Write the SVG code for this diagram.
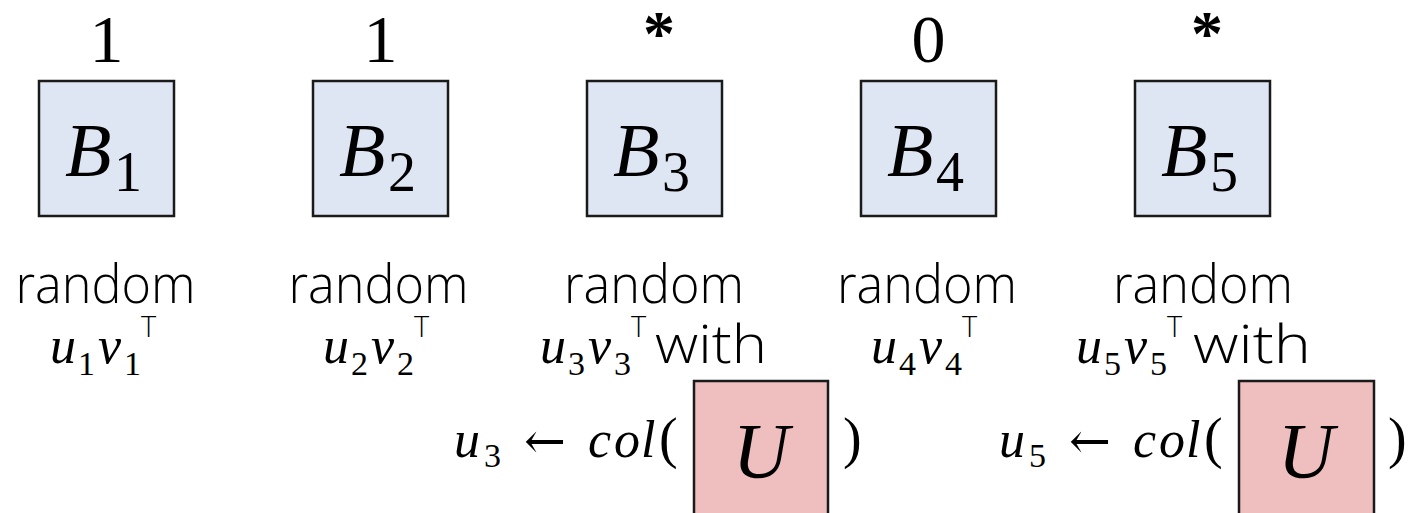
<svg xmlns="http://www.w3.org/2000/svg" width="1414" height="513" viewBox="0 0 1414 513">
<style>
.bbox{fill:#DFE6F3;stroke:#1a1a1a;stroke-width:2.5}
.ubox{fill:#EFBEBE;stroke:#1a1a1a;stroke-width:2.5}
.top{font-family:"Liberation Serif",serif;font-size:68px;fill:#000;text-anchor:middle}
.ast{font-family:"Liberation Serif",serif;font-size:64px;font-weight:bold;fill:#000;text-anchor:middle}
.mi{font-family:"Liberation Serif",serif;font-style:italic;fill:#000}
.mr{font-family:"Liberation Serif",serif;fill:#000}
.arr{font-family:"DejaVu Serif",serif;font-size:50px;fill:#000}
.big{font-size:76px}
.bsub{font-size:56px}
.m{font-size:52px}
.s{font-size:34px}
.sup{font-family:"Open Sans","Liberation Sans",sans-serif;font-weight:300;font-size:29px;fill:#000}
.par{font-size:56px}
.sans{font-family:"Open Sans","Liberation Sans",sans-serif;font-weight:300;font-size:53px;fill:#000}
.U{font-size:78px;text-anchor:middle}
</style>

<g id="B1">
<text class="top" x="106.5" y="62">1</text>
<rect class="bbox" x="39" y="81" width="135" height="135"/>
<text class="mi big" x="65" y="176">B</text><text class="mr bsub" x="114" y="191">1</text>
<text class="sans" x="105.5" y="303" text-anchor="middle" textLength="180" lengthAdjust="spacingAndGlyphs">random</text>
<text class="mi m" x="50" y="363">u</text><text class="mr s" x="78" y="375">1</text>
<text class="mi m" x="98" y="363">v</text><text class="mr s" x="124" y="375">1</text><text class="sup" x="141" y="337">T</text>
</g>

<g id="B2">
<text class="top" x="380.5" y="62">1</text>
<rect class="bbox" x="313" y="81" width="135" height="135"/>
<text class="mi big" x="339" y="176">B</text><text class="mr bsub" x="388" y="191">2</text>
<text class="sans" x="378.5" y="303" text-anchor="middle" textLength="180" lengthAdjust="spacingAndGlyphs">random</text>
<text class="mi m" x="323" y="363">u</text><text class="mr s" x="351" y="375">2</text>
<text class="mi m" x="371" y="363">v</text><text class="mr s" x="397" y="375">2</text><text class="sup" x="414" y="337">T</text>
</g>

<g id="B3">
<text class="ast" x="659" y="55">*</text>
<rect class="bbox" x="587" y="81" width="135" height="135"/>
<text class="mi big" x="613" y="176">B</text><text class="mr bsub" x="662" y="191">3</text>
<text class="sans" x="654" y="303" text-anchor="middle" textLength="180" lengthAdjust="spacingAndGlyphs">random</text>
<text class="mi m" x="540" y="363">u</text><text class="mr s" x="568" y="375">3</text>
<text class="mi m" x="588" y="363">v</text><text class="mr s" x="614" y="375">3</text><text class="sup" x="631" y="337">T</text>
<text class="sans" x="655" y="363" textLength="112" lengthAdjust="spacingAndGlyphs">with</text>
<text class="mi m" x="454" y="457">u</text><text class="mr s" x="484" y="467">3</text>
<text class="arr" x="524" y="458">←</text>
<text class="mi m" x="588" y="457">c</text><text class="mi m" x="614" y="457">o</text><text class="mi m" x="641" y="457">l</text>
<text class="mr par" x="659" y="457">(</text>
<text class="mr par" x="843" y="457">)</text>
</g>

<g id="U3">
<rect class="ubox" x="694" y="381" width="134" height="140"/>
<text class="mi U" x="761" y="477">U</text>
</g>

<g id="B4">
<text class="top" x="928.5" y="62">0</text>
<rect class="bbox" x="861" y="81" width="135" height="135"/>
<text class="mi big" x="887" y="176">B</text><text class="mr bsub" x="936" y="191">4</text>
<text class="sans" x="927" y="303" text-anchor="middle" textLength="180" lengthAdjust="spacingAndGlyphs">random</text>
<text class="mi m" x="871" y="363">u</text><text class="mr s" x="899" y="375">4</text>
<text class="mi m" x="919" y="363">v</text><text class="mr s" x="945" y="375">4</text><text class="sup" x="962" y="337">T</text>
</g>

<g id="B5">
<text class="ast" x="1207" y="55">*</text>
<rect class="bbox" x="1135" y="81" width="135" height="135"/>
<text class="mi big" x="1161" y="176">B</text><text class="mr bsub" x="1210" y="191">5</text>
<text class="sans" x="1203" y="303" text-anchor="middle" textLength="180" lengthAdjust="spacingAndGlyphs">random</text>
<text class="mi m" x="1076" y="363">u</text><text class="mr s" x="1104" y="375">5</text>
<text class="mi m" x="1124" y="363">v</text><text class="mr s" x="1150" y="375">5</text><text class="sup" x="1167" y="337">T</text>
<text class="sans" x="1193" y="363" textLength="118" lengthAdjust="spacingAndGlyphs">with</text>
<text class="mi m" x="999" y="457">u</text><text class="mr s" x="1029" y="467">5</text>
<text class="arr" x="1069" y="458">←</text>
<text class="mi m" x="1133" y="457">c</text><text class="mi m" x="1159" y="457">o</text><text class="mi m" x="1186" y="457">l</text>
<text class="mr par" x="1204" y="457">(</text>
<text class="mr par" x="1388" y="457">)</text>
</g>

<g id="U5">
<rect class="ubox" x="1239" y="381" width="135" height="140"/>
<text class="mi U" x="1306" y="477">U</text>
</g>
</svg>
